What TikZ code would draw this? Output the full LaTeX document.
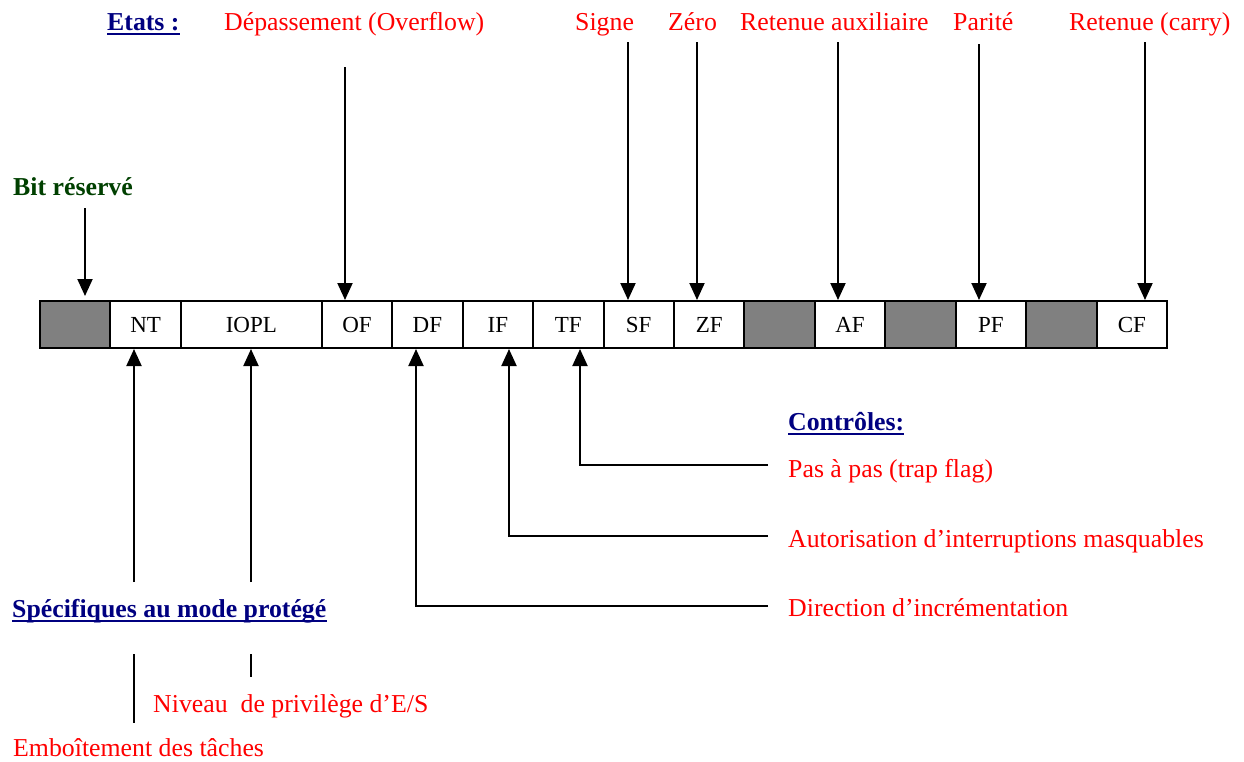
\documentclass[tikz,border=0pt]{standalone}
\usepackage{fontspec}
\setmainfont{Liberation Serif}
\usetikzlibrary{arrows.meta}
\definecolor{flagred}{RGB}{255,0,0}
\definecolor{headnavy}{RGB}{0,0,128}
\definecolor{resgreen}{RGB}{0,64,0}
\definecolor{resgrey}{RGB}{128,128,128}
\begin{document}
\begin{tikzpicture}[x=1pt,y=-1pt,
  cell/.style={draw=black,line width=2pt,minimum height=47pt,inner sep=0pt,
    font=\fontsize{23}{26}\selectfont},
  freecell/.style={cell,fill=white},
  rescell/.style={cell,fill=resgrey},
  lbl/.style={anchor=base west,inner sep=0pt,text=flagred,
    font=\fontsize{25.8}{30}\selectfont},
  head/.style={anchor=base west,inner sep=0pt,text=headnavy,
    font=\fontsize{25.8}{30}\selectfont\bfseries},
  uline/.style={draw=headnavy,line width=2pt},
  arr/.style={draw=black,line width=2pt,-{Triangle[length=17pt,width=15pt]}},
  wire/.style={draw=black,line width=2pt}]
\useasboundingbox (0,0) rectangle (1244,761);

% ---- FLAGS register: 16 bit positions, 70.44pt each ----
\def\cw{70.44}
\foreach \name/\i/\n/\txt/\sty in {r15/0/1//rescell, NT/1/1/NT/freecell,
    IOPL/2/2/IOPL/freecell, OF/4/1/OF/freecell, DF/5/1/DF/freecell,
    IF/6/1/IF/freecell, TF/7/1/TF/freecell, SF/8/1/SF/freecell,
    ZF/9/1/ZF/freecell, r5/10/1//rescell, AF/11/1/AF/freecell,
    r3/12/1//rescell, PF/13/1/PF/freecell, r1/14/1//rescell,
    CF/15/1/CF/freecell}
  \node[\sty,minimum width=\n*\cw pt] (\name) at ({40+(\i+\n/2)*\cw},324.5) {\txt};

% ---- status flags ----
\node[head] (etats) at (107,30) {Etats :};
\draw[uline] ([yshift=-4pt]etats.base west) -- ([yshift=-4pt]etats.base east);
\node[lbl] (ovf) at (224,30) {Dépassement (Overflow)};
\node[lbl] (sgn) at (575,30) {Signe};
\node[lbl] (zro) at (668,30) {Zéro};
\node[lbl] (aux) at (740,30) {Retenue auxiliaire};
\node[lbl] (par) at (953,30) {Parité};
\node[lbl] (car) at (1069,30) {Retenue (carry)};

\coordinate (ofT) at (345,67);
\coordinate (sfT) at (628,42);
\coordinate (zfT) at (697,42);
\coordinate (afT) at (838,42);
\coordinate (pfT) at (979,44);
\coordinate (cfT) at (1145,42);
\draw[arr] (ofT) -- (ofT |- OF.north);
\draw[arr] (sfT) -- (sfT |- SF.north);
\draw[arr] (zfT) -- (zfT |- ZF.north);
\draw[arr] (afT) -- (afT |- AF.north);
\draw[arr] (pfT) -- (pfT |- PF.north);
\draw[arr] (cfT) -- (cfT |- CF.north);

% ---- reserved bit ----
\node[anchor=base west,inner sep=0pt,text=resgreen,
  font=\fontsize{25.8}{30}\selectfont\bfseries] (res) at (13,195) {Bit réservé};
\coordinate (resT) at (85,208);
\draw[arr] (resT) -- ([yshift=4pt]resT |- r15.north);

% ---- control flags ----
\node[head] (ctl) at (788,430) {Contrôles:};
\draw[uline] ([yshift=-4pt]ctl.base west) -- ([yshift=-4pt]ctl.base east);
\node[lbl] (tfl) at (788,477) {Pas à pas (trap flag)};
\node[lbl] (ifl) at (788,547) {Autorisation d’interruptions masquables};
\node[lbl] (dfl) at (788,616) {Direction d’incrémentation};

\coordinate (tfE) at (768,465);
\coordinate (ifE) at (768,536);
\coordinate (dfE) at (768,606);
\draw[arr] (tfE) -| (580,0 |- TF.south);
\draw[arr] (ifE) -| (509,0 |- IF.south);
\draw[arr] (dfE) -| (416,0 |- DF.south);

% ---- protected-mode flags ----
\node[head] (prot) at (12,617) {Spécifiques au mode protégé};
\draw[uline] ([yshift=-4pt]prot.base west) -- ([yshift=-4pt]prot.base east);
\coordinate (ntB) at (134,582);
\coordinate (ioB) at (251,582);
\draw[arr] (ntB) -- (ntB |- NT.south);
\draw[arr] (ioB) -- (ioB |- IOPL.south);

\coordinate (ntL1) at (134,654);
\coordinate (ntL2) at (134,723);
\coordinate (ioL1) at (251,654);
\coordinate (ioL2) at (251,677);
\draw[wire] (ntL1) -- (ntL2);
\draw[wire] (ioL1) -- (ioL2);
\node[lbl] (iopl) at (153,712) {Niveau~ de privilège d’E/S};
\node[lbl] (nt) at (13,756) {Emboîtement des tâches};
\end{tikzpicture}
\end{document}
